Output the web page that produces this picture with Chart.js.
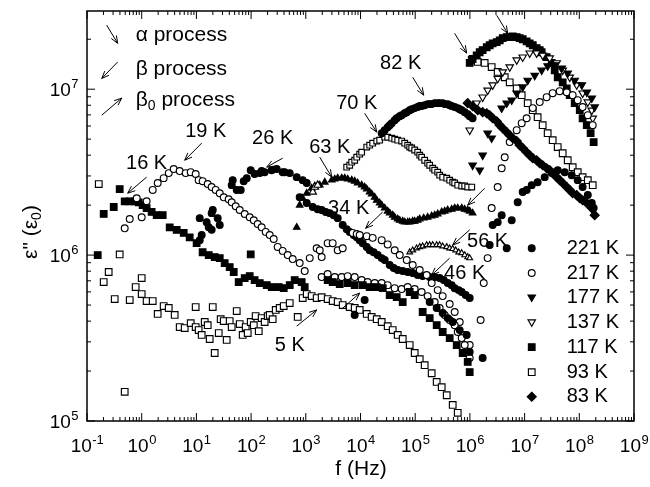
<!DOCTYPE html>
<html>
<head>
<meta charset="utf-8">
<script src="https://cdn.jsdelivr.net/npm/chart.js@4.4.1/dist/chart.umd.min.js"></script>
<style>html,body{margin:0;padding:0;background:#fff}</style>
</head>
<body>
<canvas id="c" width="650" height="487"></canvas>
<script>
// ---- data: [f (Hz), eps'' (eps0)] ----
const t5K = [[0.164,2.68e6],[0.202,6.88e5],[0.249,7.91e5],[0.321,5.43e5],[0.396,1.01e6],[0.489,1.50e5],[0.604,5.36e5],[0.776,6.42e5],[1.0,7.27e5],[1.0,5.82e5],[1.23,5.28e5],[1.59,5.28e5],[1.96,4.42e5],[2.52,4.93e5],[3.12,4.80e5],[4.01,4.36e5],[4.95,3.68e5],[6.11,3.63e5],[7.87,3.89e5],[9.7,3.68e5],[9.7,4.86e5],[11.0,3.53e5],[12.5,3.30e5],[14.2,3.95e5],[16.1,3.78e5],[17.5,3.12e5],[19.9,4.86e5],[21.6,2.57e5],[25.6,3.39e5],[27.8,4.11e5],[31.6,4.00e5],[35.8,3.08e5],[40.6,4.00e5],[44.2,3.68e5],[54.6,4.60e5],[61.9,3.84e5],[70.2,3.30e5],[79.6,3.68e5],[86.7,3.39e5],[98.4,3.95e5],[112,3.78e5],[121,4.29e5],[138,3.48e5],[156,4.17e5],[177,3.95e5],[201,4.29e5],[219,4.36e5],[248,4.11e5],[282,4.67e5],[333,4.80e5],[395,4.93e5],[508,5.14e5],[711,4.24e5],[878,5.51e5],[1040,5.82e5],[1280,5.66e5],[1580,5.51e5],[1950,5.58e5],[2510,5.43e5],[3100,5.28e5],[3830,5.21e5],[4730,5.00e5],[6350,4.86e5],[7840,4.80e5],[9670,4.67e5],[1.30e4,4.42e5],[1.60e4,4.24e5],[1.98e4,4.11e5],[2.44e4,3.95e5],[3.14e4,3.73e5],[3.88e4,3.53e5],[4.79e4,3.30e5],[5.91e4,3.12e5],[7.93e4,2.87e5],[9.79e4,2.57e5],[1.21e5,2.36e5],[1.49e5,2.17e5],[2.00e5,1.94e5],[2.47e5,1.72e5],[3.05e5,1.60e5],[3.77e5,1.43e5],[4.85e5,1.25e5],[5.99e5,1.12e5]];
const t16K = [[0.157,1.0e6],[0.202,1.77e6],[0.308,1.95e6],[0.396,2.50e6],[0.489,2.11e6],[0.604,2.11e6],[0.745,2.11e6],[0.881,2.08e6],[1.04,2.00e6],[1.23,1.92e6],[1.52,1.82e6],[1.88,1.74e6],[2.42,1.74e6],[3.25,1.47e6],[4.36,1.42e6],[5.86,1.36e6],[7.54,1.28e6],[10.1,1.18e6],[13.0,1.04e6],[16.8,1.0e6],[21.6,9.73e5],[26.7,9.59e5],[32.9,8.95e5],[40.6,8.47e5],[48.1,7.91e5],[59.3,6.88e5],[76.4,7.27e5],[94.3,7.47e5],[98.4,1.01e6],[116,7.07e5],[144,6.78e5],[193,6.59e5],[238,6.42e5],[320,6.42e5],[395,6.32e5],[508,6.59e5],[627,7.07e5],[841,6.88e5],[955,6.42e5]];
const t19K = [[0.489,1.45e6],[0.604,1.65e6],[0.811,2.20e6],[1.0,1.69e6],[1.23,2.11e6],[1.59,2.47e6],[1.96,2.72e6],[2.52,2.91e6],[3.12,3.12e6],[3.85,3.30e6],[4.95,3.21e6],[6.37,3.12e6],[7.87,3.16e6],[9.7,3.08e6],[11.0,2.83e6],[13.0,2.79e6],[16.1,2.68e6],[19.0,2.57e6],[22.5,2.47e6],[26.7,2.36e6],[31.6,2.23e6],[38.9,2.17e6],[44.2,2.08e6],[52.3,1.97e6],[61.9,1.87e6],[76.4,1.77e6],[94.3,1.69e6],[112,1.62e6],[132,1.54e6],[156,1.47e6],[185,1.38e6],[219,1.32e6],[259,1.25e6],[306,1.12e6],[378,1.06e6],[467,1.0e6],[576,9.46e5],[773,8.95e5],[955,8.01e5]];
const t26K = [[11.5,1.23e6],[12.5,1.32e6],[11.5,1.67e6],[15.4,1.58e6],[16.8,1.47e6],[19.0,1.79e6],[19.9,1.87e6],[24.5,1.67e6],[26.7,1.52e6],[19.0,1.42e6],[44.2,2.64e6],[46.1,2.83e6],[54.6,2.47e6],[64.6,2.47e6],[73.3,2.79e6],[83.2,2.91e6],[98.4,3.25e6],[116,3.08e6],[144,3.12e6],[156,3.21e6],[177,3.16e6],[238,3.25e6],[294,3.30e6],[378,3.16e6],[411,3.16e6],[508,3.12e6],[682,2.95e6],[878,2.83e6],[1040,2.72e6]];
const t63K = [[682,1.47e6],[773,2.00e6],[878,2.20e6],[1040,2.36e6],[1280,2.53e6],[1460,2.61e6],[1800,2.64e6],[2220,2.75e6],[2980,2.83e6],[3380,2.87e6],[3830,2.91e6],[4530,2.91e6],[5140,2.91e6],[5830,2.87e6],[6900,2.83e6],[7830,2.79e6],[8890,2.72e6],[1.05e4,2.64e6],[1.19e4,2.57e6],[1.30e4,2.50e6],[1.47e4,2.40e6],[1.60e4,2.33e6],[1.82e4,2.23e6],[1.98e4,2.14e6],[2.24e4,2.06e6],[2.44e4,2.00e6],[2.77e4,1.92e6],[3.14e4,1.84e6],[3.42e4,1.79e6],[3.88e4,1.74e6],[4.22e4,1.69e6],[4.79e4,1.65e6],[5.21e4,1.62e6],[5.91e4,1.60e6],[6.43e4,1.58e6],[7.29e4,1.58e6],[7.93e4,1.58e6],[9.00e4,1.60e6],[9.79e4,1.60e6],[1.11e5,1.62e6],[1.21e5,1.65e6],[1.43e5,1.67e6],[1.69e5,1.69e6],[2.00e5,1.72e6],[2.27e5,1.74e6],[2.58e5,1.77e6],[3.05e5,1.82e6],[3.46e5,1.84e6],[3.93e5,1.87e6],[4.65e5,1.89e6],[5.27e5,1.92e6],[5.99e5,1.92e6],[7.08e5,1.92e6],[8.03e5,1.89e6],[9.12e5,1.87e6],[9.91e5,1.84e6],[1.12e6,1.79e6]];
const t63Kopen = [[1340,2.40e6],[1460,2.57e6],[1650,2.64e6]];
const t70K = [[5590,3.39e6],[6350,3.48e6],[6900,3.63e6],[7830,3.73e6],[8530,3.89e6],[9670,4.06e6],[1.05e4,4.17e6],[1.30e4,4.48e6],[1.47e4,4.60e6],[1.67e4,4.73e6],[1.98e4,4.87e6],[2.24e4,4.93e6],[2.77e4,5.14e6],[3.14e4,5.14e6],[3.72e4,5.07e6],[4.22e4,5.0e6],[4.79e4,4.93e6],[5.66e4,4.87e6],[6.43e4,4.73e6],[7.29e4,4.60e6],[7.93e4,4.48e6],[8.63e4,4.42e6],[9.79e4,4.30e6],[1.11e5,4.17e6],[1.21e5,4.00e6],[1.31e5,3.89e6],[1.49e5,3.73e6],[1.69e5,3.58e6],[1.84e5,3.48e6],[2.09e5,3.34e6],[2.27e5,3.25e6],[2.58e5,3.16e6],[2.80e5,3.03e6],[3.18e5,2.95e6],[3.77e5,2.91e6],[4.27e5,2.83e6],[4.85e5,2.75e6],[5.27e5,2.72e6],[5.99e5,2.64e6],[7.08e5,2.61e6],[8.03e5,2.61e6],[9.12e5,2.57e6],[1.08e6,2.57e6]];
const t82K = [[2.44e4,5.43e6],[2.77e4,5.66e6],[3.14e4,5.90e6],[3.42e4,6.07e6],[3.72e4,6.24e6],[4.22e4,6.50e6],[4.59e4,6.68e6],[5.21e4,6.87e6],[5.66e4,6.97e6],[6.43e4,7.16e6],[7.00e4,7.27e6],[7.93e4,7.47e6],[8.63e4,7.58e6],[9.79e4,7.69e6],[1.11e5,7.80e6],[1.21e5,7.91e6],[1.31e5,7.91e6],[1.49e5,8.01e6],[1.69e5,8.13e6],[1.84e5,8.13e6],[2.00e5,8.13e6],[2.27e5,8.24e6],[2.58e5,8.24e6],[2.80e5,8.24e6],[3.18e5,8.24e6],[3.46e5,8.13e6],[3.93e5,8.13e6],[4.27e5,8.01e6],[4.65e5,7.91e6],[5.27e5,7.80e6],[5.99e5,7.69e6],[6.51e5,7.58e6],[7.08e5,7.47e6],[8.03e5,7.27e6],[9.12e5,7.06e6],[9.91e5,6.87e6],[1.12e6,6.68e6]];
const t34Kf = [[773,2.23e6],[1040,2.06e6],[1340,1.95e6],[1650,1.89e6],[1950,1.87e6],[2310,1.82e6],[2740,1.79e6],[3240,1.74e6],[3830,1.67e6],[4730,1.52e6],[5590,1.43e6],[6350,1.38e6],[7510,1.32e6],[8530,1.28e6],[9670,1.23e6],[1.10e4,1.18e6],[1.30e4,1.12e6],[1.47e4,1.07e6],[1.74e4,1.04e6],[2.06e4,1.0e6],[2.44e4,9.59e5],[2.77e4,9.33e5],[3.42e4,8.71e5],[4.05e4,8.36e5],[4.79e4,8.13e5],[5.91e4,8.01e5],[7.29e4,7.91e5],[9.00e4,7.80e5],[1.11e5,7.58e5],[1.37e5,7.47e5],[1.84e5,7.37e5],[2.27e5,7.37e5],[2.80e5,7.27e5],[3.32e5,7.07e5],[3.93e5,6.78e5],[4.65e5,6.59e5],[5.27e5,6.32e5],[6.24e5,6.15e5],[7.08e5,5.99e5],[8.37e5,5.74e5],[9.91e5,5.51e5]];
const t34Ko = [[1180,9.59e5],[1580,1.10e6],[1800,1.07e6],[1950,9.73e5],[2510,1.18e6],[3100,1.18e6],[3830,1.07e6],[4730,1.10e6],[7200,1.36e6],[8530,1.34e6],[9670,1.32e6],[1.30e4,1.30e6],[1.67e4,1.27e6],[2.44e4,1.23e6],[3.14e4,1.16e6],[4.22e4,1.07e6],[5.21e4,1.0e6],[7.00e4,9.33e5],[9.00e4,8.71e5],[1.21e5,8.13e5],[1.62e5,7.58e5],[2.00e5,6.78e5],[2.58e5,6.15e5],[3.18e5,5.66e5],[4.27e5,5.07e5],[5.27e5,4.54e5],[6.51e5,3.95e5],[8.03e5,3.30e5],[9.91e5,2.87e5]];
const t46Ko = [[1950,7.37e5],[2510,7.69e5],[3380,7.37e5],[4530,7.37e5],[5830,7.47e5],[7830,7.37e5],[1.05e4,7.07e5],[1.35e4,6.88e5],[1.82e4,6.78e5],[2.44e4,6.78e5],[3.14e4,6.59e5],[4.22e4,6.32e5],[5.66e4,6.24e5],[7.29e4,6.42e5],[9.79e4,6.24e5],[1.31e5,5.99e5],[1.69e5,5.66e5],[2.27e5,5.21e5],[2.80e5,4.80e5],[3.46e5,4.36e5],[4.27e5,4.06e5],[5.27e5,3.78e5],[5.99e5,3.44e5],[7.08e5,3.16e5],[8.03e5,2.87e5],[9.12e5,2.61e5],[9.91e5,2.40e5]];
const t46Ks = [[2510,7.07e5],[3100,6.88e5],[4170,6.68e5],[5830,6.78e5],[7830,6.59e5],[1.10e4,6.59e5],[1.47e4,6.42e5],[1.98e4,6.42e5],[2.55e4,6.32e5],[3.42e4,5.74e5],[4.59e4,5.58e5],[5.91e4,5.21e5],[7.93e4,5.99e5],[9.79e4,5.74e5],[1.37e5,4.54e5],[1.84e5,4.17e5],[2.47e5,3.78e5],[3.18e5,3.44e5],[4.27e5,3.16e5],[5.74e5,2.87e5],[7.38e5,2.57e5],[9.12e5,2.27e5],[9.91e5,1.97e5]];
const t46Kc = [[7830,4.36e5],[1.19e4,5.36e5],[1.84e5,5.21e5],[2.47e5,4.80e5],[3.18e5,4.48e5],[3.93e5,4.17e5],[4.85e5,3.95e5],[6.51e5,3.53e5],[8.73e5,3.30e5],[9.91e5,2.61e5]];
const t56K = [[7.93e4,1.04e6],[9.00e4,1.07e6],[1.06e5,1.10e6],[1.21e5,1.12e6],[1.37e5,1.13e6],[1.62e5,1.15e6],[1.84e5,1.15e6],[2.09e5,1.15e6],[2.47e5,1.15e6],[2.80e5,1.15e6],[3.18e5,1.13e6],[3.77e5,1.12e6],[4.27e5,1.10e6],[4.85e5,1.09e6],[5.50e5,1.07e6],[6.24e5,1.04e6],[7.08e5,1.03e6],[8.03e5,1.0e6],[9.12e5,9.73e5],[9.91e5,9.59e5]];
const t93K = [[1.08e6,1.50e7],[1.39e6,1.46e7],[1.86e6,1.44e7],[2.50e6,1.36e7],[3.22e6,1.27e7],[4.33e6,1.18e7],[5.34e6,1.10e7],[7.17e6,1.01e7],[8.85e6,9.20e6],[1.14e7,8.24e6],[1.41e7,7.47e6],[1.73e7,6.78e6],[2.14e7,6.07e6],[2.64e7,5.43e6],[3.26e7,4.93e6],[4.03e7,4.48e6],[4.97e7,4.11e6],[6.14e7,3.73e6],[7.57e7,3.39e6],[9.35e7,3.16e6],[1.15e8,2.95e6],[1.43e8,2.83e6],[1.76e8,2.64e6]];
const t117K = [[9.91e5,1.44e7],[1.12e6,1.52e7],[1.33e6,1.60e7],[1.51e6,1.67e7],[1.71e6,1.72e7],[2.03e6,1.79e7],[2.30e6,1.84e7],[2.61e6,1.89e7],[3.09e6,1.92e7],[3.51e6,1.97e7],[3.98e6,2.03e7],[4.71e6,2.06e7],[5.34e6,2.06e7],[6.06e6,2.08e7],[7.17e6,2.06e7],[8.13e6,2.03e7],[9.23e6,2.00e7],[1.09e7,1.94e7],[1.24e7,1.89e7],[1.41e7,1.84e7],[1.66e7,1.77e7],[1.89e7,1.72e7],[2.05e7,1.67e7],[2.53e7,1.56e7],[3.13e7,1.44e7],[3.55e7,1.30e7],[4.03e7,1.18e7],[4.97e7,1.10e7],[5.89e7,1.01e7],[6.68e7,9.20e6],[8.24e7,8.24e6],[1.02e8,7.47e6],[1.15e8,6.68e6],[1.37e8,6.07e6],[1.61e8,5.43e6],[1.83e8,4.80e6]];
const t137K = [[9.91e5,5.66e6],[1.33e6,8.24e6],[1.71e6,8.95e6],[2.11e6,9.86e6],[2.61e6,1.06e7],[3.22e6,1.16e7],[3.98e6,1.27e7],[5.34e6,1.36e7],[7.17e6,1.50e7],[9.23e6,1.56e7],[1.24e7,1.65e7],[1.66e7,1.65e7],[2.14e7,1.60e7],[2.88e7,1.54e7],[3.86e7,1.44e7],[4.97e7,1.30e7],[6.68e7,1.18e7],[8.96e7,1.06e7],[1.15e8,9.46e6],[1.43e8,8.36e6],[1.69e8,7.47e6],[1.76e8,6.68e6]];
const t177K = [[1.12e6,3.48e6],[1.51e6,3.25e6],[1.71e6,4.00e6],[2.11e6,5.43e6],[2.50e6,5.07e6],[3.81e6,7.69e6],[4.71e6,8.24e6],[5.81e6,8.59e6],[7.17e6,9.46e6],[9.23e6,1.03e7],[1.14e7,1.13e7],[1.53e7,1.21e7],[2.05e7,1.30e7],[2.64e7,1.38e7],[3.55e7,1.40e7],[4.77e7,1.34e7],[6.14e7,1.25e7],[8.24e7,1.13e7],[1.11e8,1.06e7],[1.37e8,9.59e6],[1.69e8,8.83e6],[1.91e8,7.80e6]];
const t217K = [[1.57e6,4.06e5],[1.79e6,6.78e5],[2.11e6,9.59e5],[2.50e6,1.92e6],[3.22e6,2.57e6],[3.81e6,3.34e6],[4.33e6,3.89e6],[5.34e6,4.80e6],[7.17e6,5.66e6],[8.85e6,6.24e6],[1.09e7,6.68e6],[1.41e7,7.69e6],[1.89e7,8.36e6],[2.53e7,8.95e6],[3.26e7,9.46e6],[4.38e7,9.73e6],[5.89e7,9.59e6],[7.57e7,9.20e6],[9.35e7,8.59e6],[1.15e8,7.80e6],[1.43e8,6.97e6],[1.76e8,6.07e6]];
const t221K = [[1.71e6,2.40e5],[2.30e6,1.15e6],[2.61e6,1.52e6],[3.22e6,1.58e6],[3.81e6,1.74e6],[4.71e6,1.10e6],[5.81e6,1.62e6],[7.48e6,2.08e6],[9.23e6,2.40e6],[1.09e7,2.47e6],[1.35e7,2.64e6],[1.73e7,2.75e6],[2.33e7,2.95e6],[3.13e7,3.12e6],[4.03e7,3.25e6],[5.41e7,3.16e6],[7.26e7,3.03e6],[9.35e7,2.83e6],[1.15e8,2.57e6],[1.43e8,2.30e6],[1.69e8,2.06e6],[1.83e8,1.92e6]];
const t83K = [[9.12e5,8.24e6],[1.12e6,7.91e6],[1.39e6,7.47e6],[1.71e6,7.27e6],[2.03e6,7.16e6],[2.30e6,6.97e6],[2.61e6,6.68e6],[3.09e6,6.41e6],[3.51e6,6.07e6],[3.98e6,5.82e6],[4.71e6,5.51e6],[5.34e6,5.28e6],[6.06e6,5.07e6],[7.17e6,4.87e6],[8.13e6,4.60e6],[9.23e6,4.42e6],[1.09e7,4.17e6],[1.24e7,4.00e6],[1.41e7,3.84e6],[1.66e7,3.73e6],[1.89e7,3.58e6],[2.14e7,3.48e6],[2.53e7,3.34e6],[2.88e7,3.25e6],[3.26e7,3.12e6],[3.86e7,2.95e6],[4.38e7,2.83e6],[4.97e7,2.72e6],[5.89e7,2.57e6],[6.68e7,2.47e6],[7.57e7,2.36e6],[8.96e7,2.30e6],[1.02e8,2.20e6],[1.15e8,2.14e6],[1.37e8,2.06e6],[1.69e8,1.92e6],[1.91e8,1.74e6]];

// axis ranges and tick decades
const xDecades = [-1, 0, 1, 2, 3, 4, 5, 6, 7, 8, 9];
const yDecades = [5, 6, 7];
const xMin = 0.1, xMax = 1e9, yMin = 1e5, yMax = 2.96e7;

// annotations, anchored in data units
const tempLabels = [['16 K',1.23,3.58e6],['19 K',14.8,5.58e6],['26 K',248,5.07e6],['63 K',2740,4.48e6],['34 K',6080,1.92e6],['70 K',8530,8.24e6],['82 K',5.43e4,1.42e7],['56 K',2.11e6,1.21e6],['46 K',8.03e5,7.80e5],['5 K',508,2.87e5]];
const arrows = [
  [1.23,2.95e6,0.555,2.36e6],[12.5,4.73e6,6.11,3.73e6],[378,3.84e6,193,3.39e6],
  [1800,3.89e6,2980,2.95e6],[2.55e4,1.82e6,1.24e4,1.45e6],[1.19e4,7.16e6,1.98e4,5.51e6],
  [9.00e4,1.18e7,1.43e5,9.20e6],[9.91e5,1.42e6,4.85e5,1.15e6],[4.27e5,9.59e5,2.00e5,7.58e5],
  [682,3.73e5,1580,4.67e5],[4530,4.73e5,9670,5.90e5],[5.27e5,2.17e7,8.73e5,1.65e7],
  [3.09e6,2.79e7,4.91e6,2.17e7],[1.86e6,2.53e6,9.12e5,2.00e6],
  [0.229,2.43e7,0.364,1.89e7],[0.364,1.46e7,0.186,1.16e7],[0.186,6.97e6,0.431,8.83e6]
];
const processLabels = [['α process','',0.776,2.11e7],['β process','',0.776,1.32e7],['β','0',0.776,8.59e6]];
const legendTemps = ['221 K','217 K','177 K','137 K','117 K','93 K','83 K'];
const legendEps = [1.10e6,7.80e5,5.58e5,3.95e5,2.79e5,1.97e5,1.40e5];
const legendMarkF = 1.35e7, legendTextF = 5.89e7;

const FONT = '"Liberation Sans", Arial, Helvetica, sans-serif';

function series(name, pts, style, filled, r, rot) {
  return {
    label: name,
    data: pts.map(p => ({x: p[0], y: p[1]})),
    pointStyle: style,
    pointRadius: r,
    pointHoverRadius: r,
    pointRotation: rot || 0,
    pointBackgroundColor: filled ? '#000' : '#fff',
    pointBorderColor: '#000',
    pointBorderWidth: 1.15,
    showLine: false
  };
}

const RC = 3.4, RR = 4.7, RT = 4.3, RD = 4.5;
// index 0 is drawn on top in Chart.js
const datasets = [
  series('83 K', t83K, 'rectRot', true, RD),
  series('221 K', t221K, 'circle', true, RC),
  series('217 K', t217K, 'circle', false, RC),
  series('177 K', t177K, 'triangle', true, RT, 180),
  series('137 K', t137K, 'triangle', false, RT, 180),
  series('117 K', t117K, 'rect', true, RR),
  series('93 K', t93K, 'rect', false, RR),
  series('56K', t56K, 'triangle', false, 3.3),
  series('46Kc', t46Kc, 'circle', true, RC),
  series('46Ks', t46Ks, 'rect', true, RR),
  series('46Ko', t46Ko, 'circle', false, RC),
  series('34Ko', t34Ko, 'circle', false, RC),
  series('34Kf', t34Kf, 'circle', true, RC),
  series('82K', t82K, 'circle', true, 3.4),
  series('70K', t70K, 'rect', false, 4.0),
  series('63Ko', t63Kopen, 'triangle', false, RT),
  series('63K', t63K, 'triangle', true, 3.8),
  series('26K', t26K, 'circle', true, RC),
  series('19K', t19K, 'circle', false, RC),
  series('16K', t16K, 'rect', true, RR),
  series('5K', t5K, 'rect', false, RR)
];

function marker(ctx, style, filled, x, y, r, rot) {
  ctx.save();
  ctx.translate(x, y);
  ctx.rotate((rot || 0) * Math.PI / 180);
  ctx.beginPath();
  if (style === 'circle') ctx.arc(0, 0, r, 0, Math.PI * 2);
  else if (style === 'rect') { const s = r * Math.SQRT1_2; ctx.rect(-s, -s, 2 * s, 2 * s); }
  else if (style === 'rectRot') { ctx.moveTo(0, -r); ctx.lineTo(r, 0); ctx.lineTo(0, r); ctx.lineTo(-r, 0); ctx.closePath(); }
  else { for (let i = 0; i < 3; i++) { const a = i * 2 * Math.PI / 3; ctx[i ? 'lineTo' : 'moveTo'](Math.sin(a) * r, -Math.cos(a) * r); } ctx.closePath(); }
  ctx.fillStyle = filled ? '#000' : '#fff';
  ctx.fill();
  ctx.lineWidth = 1.15;
  ctx.strokeStyle = '#000';
  ctx.stroke();
  ctx.restore();
}

function arrow(ctx, x1, y1, x2, y2) {
  const ang = Math.atan2(y2 - y1, x2 - x1), L = 8, w = 0.38;
  ctx.beginPath();
  ctx.moveTo(x1, y1); ctx.lineTo(x2, y2);
  ctx.moveTo(x2 - L * Math.cos(ang - w), y2 - L * Math.sin(ang - w));
  ctx.lineTo(x2, y2);
  ctx.lineTo(x2 - L * Math.cos(ang + w), y2 - L * Math.sin(ang + w));
  ctx.stroke();
}

function power(ctx, exp, x, y, align) {
  ctx.font = '19px ' + FONT;
  const w1 = ctx.measureText('10').width;
  ctx.font = '13px ' + FONT;
  const w2 = ctx.measureText(exp).width;
  const x0 = align === 'right' ? x - w1 - w2 : x - (w1 + w2) / 2;
  ctx.textAlign = 'left';
  ctx.textBaseline = 'alphabetic';
  ctx.font = '19px ' + FONT;
  ctx.fillText('10', x0, y);
  ctx.font = '13px ' + FONT;
  ctx.fillText(exp, x0 + w1 + 0.5, y - 8);
}

const decorations = {
  id: 'decorations',
  afterDatasetsDraw(chart) {
    const {ctx, chartArea: a} = chart;
    const xs = chart.scales.x, ys = chart.scales.y;
    const X = v => xs.getPixelForValue(v), Y = v => ys.getPixelForValue(v);
    ctx.save();
    ctx.strokeStyle = '#000';
    ctx.fillStyle = '#000';
    // frame
    ctx.lineWidth = 1.5;
    ctx.strokeRect(a.left, a.top, a.right - a.left, a.bottom - a.top);
    // ticks
    ctx.lineWidth = 1;
    ctx.beginPath();
    xDecades.forEach(e => {
      for (let m = 1; m <= 9; m++) {
        const v = m * Math.pow(10, e);
        if (v > xMax * 1.001) break;
        const px = X(v), L = m === 1 ? 8 : 4;
        ctx.moveTo(px, a.bottom); ctx.lineTo(px, a.bottom - L);
        ctx.moveTo(px, a.top); ctx.lineTo(px, a.top + L);
      }
    });
    yDecades.forEach(e => {
      for (let m = 1; m <= 9; m++) {
        const v = m * Math.pow(10, e);
        if (v > yMax) break;
        const py = Y(v), L = m === 1 ? 8 : 4;
        ctx.moveTo(a.left, py); ctx.lineTo(a.left + L, py);
        ctx.moveTo(a.right, py); ctx.lineTo(a.right - L, py);
      }
    });
    ctx.stroke();
    // tick labels
    xDecades.forEach(e => power(ctx, String(e), X(Math.pow(10, e)), a.bottom + 31, 'center'));
    yDecades.forEach(e => power(ctx, String(e), a.left - 9, Y(Math.pow(10, e)) + 7, 'right'));
    // axis titles
    ctx.font = '21px ' + FONT;
    ctx.textAlign = 'center';
    ctx.textBaseline = 'middle';
    ctx.fillText('f (Hz)', 361, 469);
    ctx.save();
    ctx.translate(30, 232);
    ctx.rotate(-Math.PI / 2);
    ctx.font = '21px ' + FONT;
    const p1 = 'ε" (ε', p2 = '0', p3 = ')';
    const w1 = ctx.measureText(p1).width, w3 = ctx.measureText(p3).width;
    ctx.font = '14px ' + FONT;
    const w2 = ctx.measureText(p2).width;
    let sx = -(w1 + w2 + w3) / 2;
    ctx.textAlign = 'left';
    ctx.textBaseline = 'alphabetic';
    ctx.font = '21px ' + FONT; ctx.fillText(p1, sx, 7);
    ctx.font = '14px ' + FONT; ctx.fillText(p2, sx + w1, 11);
    ctx.font = '21px ' + FONT; ctx.fillText(p3, sx + w1 + w2, 7);
    ctx.restore();
    // temperature labels and arrows
    ctx.font = '20px ' + FONT;
    ctx.textAlign = 'center';
    ctx.textBaseline = 'middle';
    tempLabels.forEach(t => ctx.fillText(t[0], X(t[1]), Y(t[2])));
    ctx.lineWidth = 1;
    arrows.forEach(r => arrow(ctx, X(r[0]), Y(r[1]), X(r[2]), Y(r[3])));
    // process legend
    ctx.textAlign = 'left';
    processLabels.forEach(p => {
      const px = X(p[2]), py = Y(p[3]);
      ctx.font = '21px ' + FONT;
      ctx.fillText(p[0], px, py);
      if (p[1]) {
        const w = ctx.measureText(p[0]).width;
        ctx.font = '14px ' + FONT;
        ctx.fillText(p[1], px + w, py + 6);
        const ws = ctx.measureText(p[1]).width;
        ctx.font = '21px ' + FONT;
        ctx.fillText(' process', px + w + ws, py);
      }
    });
    // temperature legend
    legendTemps.forEach((name, i) => {
      const ds = chart.data.datasets.find(d => d.label === name);
      const py = Y(legendEps[i]);
      marker(ctx, ds.pointStyle, ds.pointBackgroundColor === '#000', X(legendMarkF), py, ds.pointRadius, ds.pointRotation);
      ctx.fillStyle = '#000';
      ctx.font = '20px ' + FONT;
      ctx.textAlign = 'left';
      ctx.textBaseline = 'middle';
      ctx.fillText(name, X(legendTextF), py);
    });
    ctx.restore();
  }
};

new Chart(document.getElementById('c'), {
  type: 'scatter',
  data: {datasets},
  options: {
    responsive: false,
    animation: false,
    devicePixelRatio: 1,
    layout: {padding: {left: 87, right: 16, top: 11, bottom: 66}},
    plugins: {legend: {display: false}, tooltip: {enabled: false}},
    scales: {
      x: {type: 'logarithmic', min: xMin, max: xMax, display: false},
      y: {type: 'logarithmic', min: yMin, max: yMax, display: false}
    }
  },
  plugins: [decorations]
});
</script>
</body>
</html>
